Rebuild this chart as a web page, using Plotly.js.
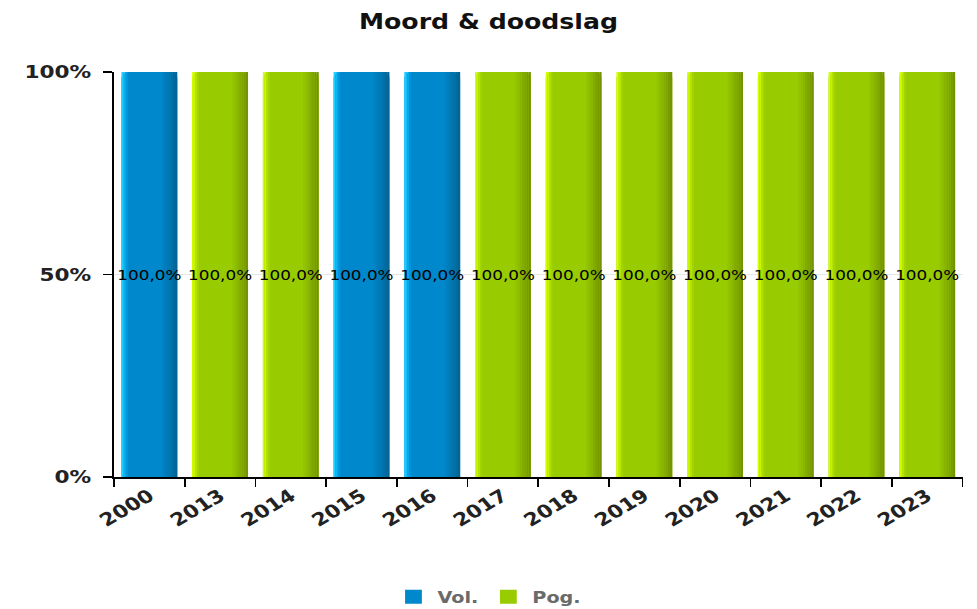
<!DOCTYPE html>
<html>
<head>
<meta charset="utf-8">
<script src="https://cdn.plot.ly/plotly-3.0.1.min.js"></script>
<style>
  html, body { margin: 0; padding: 0; background: #ffffff; overflow: hidden; }
  #wrap { width: 977px; height: 609px; overflow: hidden; }
  #chart { width: 814px; height: 609px; transform: scaleX(1.2002); transform-origin: 0 0; }
</style>
</head>
<body>
<div id="wrap"><div id="chart"></div></div>
<script>
// ---- data ----
const categories = ['2000', '2013', '2014', '2015', '2016', '2017', '2018', '2019', '2020', '2021', '2022', '2023'];
const volValues = [100, 0, 0, 100, 100, 0, 0, 0, 0, 0, 0, 0];
const pogValues = [0, 100, 100, 0, 0, 100, 100, 100, 100, 100, 100, 100];
const seriesNames = ['Vol.', 'Pog.'];
const yTickVals = [0, 50, 100];
const yTickText = ['0%', '50%', '100%'];
const chartTitle = 'Moord & doodslag';

// ---- style ----
const BAR_W = 0.79;
const CORNER = 6;
const styles = {
  'Vol.': { main: '#0088cc', strips: [
    [0.00, 0.03, '#1fcfff'], [0.03, 0.03, '#12bdf8'], [0.06, 0.03, '#08a6ea'], [0.09, 0.03, '#0394da'],
    [0.72, 0.04, '#0083c4'], [0.76, 0.04, '#007ebc'], [0.80, 0.04, '#0079b4'], [0.84, 0.04, '#0074ac'],
    [0.88, 0.04, '#006fa4'], [0.92, 0.04, '#006a9c'], [0.96, 0.04, '#006594']] },
  'Pog.': { main: '#99cc00', strips: [
    [0.00, 0.03, '#d8ff00'], [0.03, 0.03, '#c8f500'], [0.06, 0.03, '#b4e400'], [0.09, 0.03, '#a3d400'],
    [0.72, 0.04, '#93c400'], [0.76, 0.04, '#8ebc00'], [0.80, 0.04, '#89b400'], [0.84, 0.04, '#83ac00'],
    [0.88, 0.04, '#7ea400'], [0.92, 0.04, '#789c00'], [0.96, 0.04, '#729400']] }
};
const FONT = 'DejaVu Sans, Verdana, sans-serif';

function fmt(v) { return v > 0 ? v.toFixed(1).replace('.', ',') + '%' : ''; }

const traces = [];
[[seriesNames[0], volValues], [seriesNames[1], pogValues]].forEach(([name, vals]) => {
  const st = styles[name];
  traces.push({
    type: 'bar', x: categories, y: vals, width: BAR_W, offset: -BAR_W / 2,
    marker: { color: st.main, cornerradius: CORNER }, showlegend: false, hoverinfo: 'skip', name: name
  });
  st.strips.forEach(([s, w, c]) => {
    traces.push({
      type: 'bar', x: categories, y: vals, width: BAR_W * w, offset: -BAR_W / 2 + BAR_W * s,
      marker: { color: c, cornerradius: 1 }, showlegend: false, hoverinfo: 'skip'
    });
  });
});
// text labels on top
[[seriesNames[0], volValues], [seriesNames[1], pogValues]].forEach(([name, vals]) => {
  traces.push({
    type: 'bar', x: categories, y: vals, width: BAR_W, offset: -BAR_W / 2,
    marker: { color: 'rgba(0,0,0,0)' }, showlegend: false, hoverinfo: 'skip',
    text: vals.map(fmt), textposition: 'inside', insidetextanchor: 'middle',
    textangle: 0, constraintext: 'none',
    insidetextfont: { family: FONT, size: 14, color: '#000000' }
  });
});
// legend entries
seriesNames.forEach(name => {
  traces.push({
    type: 'scatter', mode: 'markers', x: [null], y: [null], name: name,
    marker: { symbol: 'square', size: 14, color: styles[name].main }, hoverinfo: 'skip'
  });
});

const layout = {
  width: 814, height: 609,
  paper_bgcolor: '#ffffff', plot_bgcolor: '#ffffff',
  margin: { l: 95, r: 12, t: 72, b: 132, autoexpand: false },
  barmode: 'overlay',
  title: {
    text: chartTitle, x: 0.5, xref: 'container', xanchor: 'center', y: 0.965, yanchor: 'middle',
    font: { family: FONT, size: 21, weight: 'bold', color: '#111111' }
  },
  xaxis: {
    type: 'category', range: [-0.5, categories.length - 0.5], tickson: 'boundaries',
    ticks: 'outside', ticklen: 8, tickwidth: 1.5, tickcolor: '#000000',
    showline: true, linecolor: '#000000', linewidth: 1.5,
    showgrid: false, tickangle: -35,
    tickfont: { family: FONT, size: 18, weight: 'bold', color: '#222222' }
  },
  yaxis: {
    range: [0, 100], tickvals: yTickVals, ticktext: yTickText,
    ticks: 'outside', ticklen: 8, tickwidth: 1.5, tickcolor: '#000000',
    showline: true, linecolor: '#000000', linewidth: 1.5,
    showgrid: true, gridcolor: '#e6e6e6', zeroline: false,
    ticklabelstandoff: 6,
    tickfont: { family: FONT, size: 18, weight: 'bold', color: '#222222' }
  },
  showlegend: true,
  legend: {
    orientation: 'h', xref: 'container', x: 0.5, xanchor: 'center',
    yref: 'container', y: 0.02, yanchor: 'middle',
    font: { family: FONT, size: 16, weight: 'bold', color: '#6a6a6a' },
    itemclick: false, itemdoubleclick: false
  },
  bargap: 0.2
};

Plotly.newPlot('chart', traces, layout, { staticPlot: true, displayModeBar: false });
</script>
</body>
</html>
